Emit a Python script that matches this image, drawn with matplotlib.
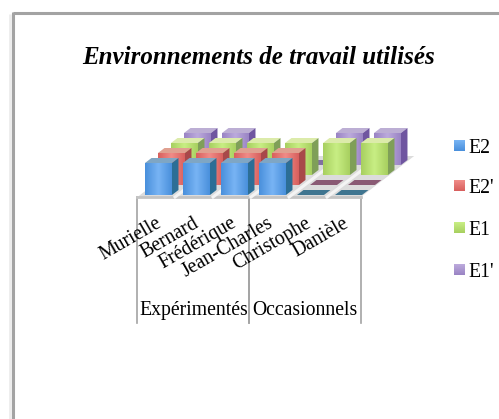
import numpy as np
import matplotlib
matplotlib.use('Agg')
import matplotlib.pyplot as plt
from matplotlib.colors import to_rgb
from matplotlib.patches import Polygon

categories = ['Murielle', 'Bernard', 'Frédérique', 'Jean-Charles', 'Christophe', 'Danièle']
groups = ['Expérimentés', 'Occasionnels']
series_names = ['E2', "E2'", 'E1', "E1'"]
e2 = [1, 1, 1, 1, 0, 0]
e2p = [1, 1, 1, 1, 0, 0]
e1 = [1, 1, 1, 1, 1, 1]
e1p = [1, 1, 0, 0, 1, 1]
series_values = [e2, e2p, e1, e1p]

# edge, centre, side, top, flat
palette = [
    ('#4a90dc', '#78b4f4', '#2c6e96', '#7fa6c4', '#3f7590'),
    ('#d8605e', '#f08c88', '#a8484a', '#e0a090', '#8a5a74'),
    ('#a8d060', '#c8ee84', '#7f9f58', '#dcebaa', '#8a9a60'),
    ('#9a84c4', '#bcaadc', '#6f55a0', '#bcaed4', '#8070a0'),
]
FONT = 'Liberation Serif'

X0, Y0 = 145, 195
STEP_X, ROW_X, ROW_Y, UNIT = 38, 13, 10, 32
BAR_W, BAR_D = 0.71, 0.5
FLOOR_C0, FLOOR_C1 = -0.13, 5.75


def project(c, s, v=0):
    """category, series, value -> pixel position of the oblique view"""
    return X0 + c * STEP_X + s * ROW_X, Y0 - s * ROW_Y - v * UNIT


def face(ax, pts, color, z):
    ax.add_patch(Polygon(pts, closed=True, facecolor=color, edgecolor='none', zorder=z))


def gradient_face(ax, pts, edge, centre, z):
    a, b = np.array(to_rgb(edge)), np.array(to_rgb(centre))
    t = np.abs(np.linspace(-1, 1, 32))[None, :, None]
    img = a * t + b * (1 - t)
    xs = [p[0] for p in pts]
    ys = [p[1] for p in pts]
    im = ax.imshow(img, extent=(min(xs), max(xs), max(ys), min(ys)), aspect='auto',
                   zorder=z, interpolation='bilinear')
    im.set_clip_path(Polygon(pts, closed=True, transform=ax.transData))


def draw_bar(ax, c, s, v, colors, z):
    edge, centre, side, top, flat = colors
    c1, s1 = c + BAR_W, s + BAR_D
    if v == 0:
        face(ax, [project(c, s), project(c1, s), project(c1, s1), project(c, s1)], flat, z)
        return
    face(ax, [project(c, s, v), project(c1, s, v), project(c1, s1, v), project(c, s1, v)], top, z)
    face(ax, [project(c1, s), project(c1, s1), project(c1, s1, v), project(c1, s, v)], side, z)
    gradient_face(ax, [project(c, s), project(c1, s), project(c1, s, v), project(c, s, v)],
                  edge, centre, z + 0.1)


fig = plt.figure(figsize=(4.99, 4.19), dpi=100)
ax = fig.add_axes([0, 0, 1, 1])
ax.axis('off')

# chart frame, only its top and left side are in the picture
ax.plot([13, 499], [13, 13], color='#a3a3a3', lw=2.2, solid_capstyle='butt', zorder=1)
ax.plot([13, 13], [12, 419], color='#a3a3a3', lw=2.2, solid_capstyle='butt', zorder=1)
ax.plot([10.5, 10.5], [14, 419], color='#ececec', lw=2, solid_capstyle='butt', zorder=1)

ax.text(259, 57, 'Environnements de travail utilisés', family=FONT, fontsize=18,
        fontweight='bold', fontstyle='italic', ha='center', va='center')

# floor
n_cat = len(categories)
floor = [project(FLOOR_C0, -0.2), project(FLOOR_C1, -0.2),
         project(FLOOR_C1, 3.9), project(FLOOR_C0, 3.9)]
face(ax, floor, '#dcdcdc', 2)
ax.plot(*zip(project(FLOOR_C0, -0.2), project(FLOOR_C1, -0.2)), color='#c4c4c4', lw=2, zorder=2.5)
for c in range(1, n_cat):
    ax.plot(*zip(project(c - 0.14, -0.2), project(c - 0.14, 3.9)), color='#f4f4f4', lw=2.2, zorder=2.5)

z = 3
for s in range(len(series_values) - 1, -1, -1):
    for c in range(n_cat):
        draw_bar(ax, c, s, series_values[s][c], palette[s], z)
        z += 1

# axis labels, the group cells share the axis evenly
cell = (FLOOR_C1 - FLOOR_C0) / len(groups)
for i, name in enumerate(groups):
    left = project(FLOOR_C0 + i * cell, -0.2)[0]
    right = project(FLOOR_C0 + (i + 1) * cell, -0.2)[0]
    ax.plot([left, left], [197, 323], color='#a3a3a3', lw=1.2, zorder=2)
    ax.plot([right, right], [197, 323], color='#a3a3a3', lw=1.2, zorder=2)
    ax.text((left + right) / 2, 310, name, family=FONT, fontsize=14.2, ha='center', va='center')

for i, name in enumerate(categories):
    ax.text(160 + 37.4 * i, 222, name, family=FONT, fontsize=14.2, rotation=30,
            rotation_mode='anchor', ha='right', va='center')

# legend
legend_y = [146, 186, 228, 270]
for name, y, colors in zip(series_names, legend_y, palette):
    t = np.linspace(0, 1, 16)[:, None, None]
    a, b = np.array(to_rgb(colors[1])), np.array(to_rgb(colors[0]))
    ax.imshow(a * (1 - t) + b * t, extent=(454, 465, y + 5, y - 6), aspect='auto', zorder=5)
    ax.text(468.5, y + 2, name, family=FONT, fontsize=14.2, ha='left', va='center')

ax.set_xlim(0, 499)
ax.set_ylim(419, 0)
fig.savefig('out.png', dpi=100)
